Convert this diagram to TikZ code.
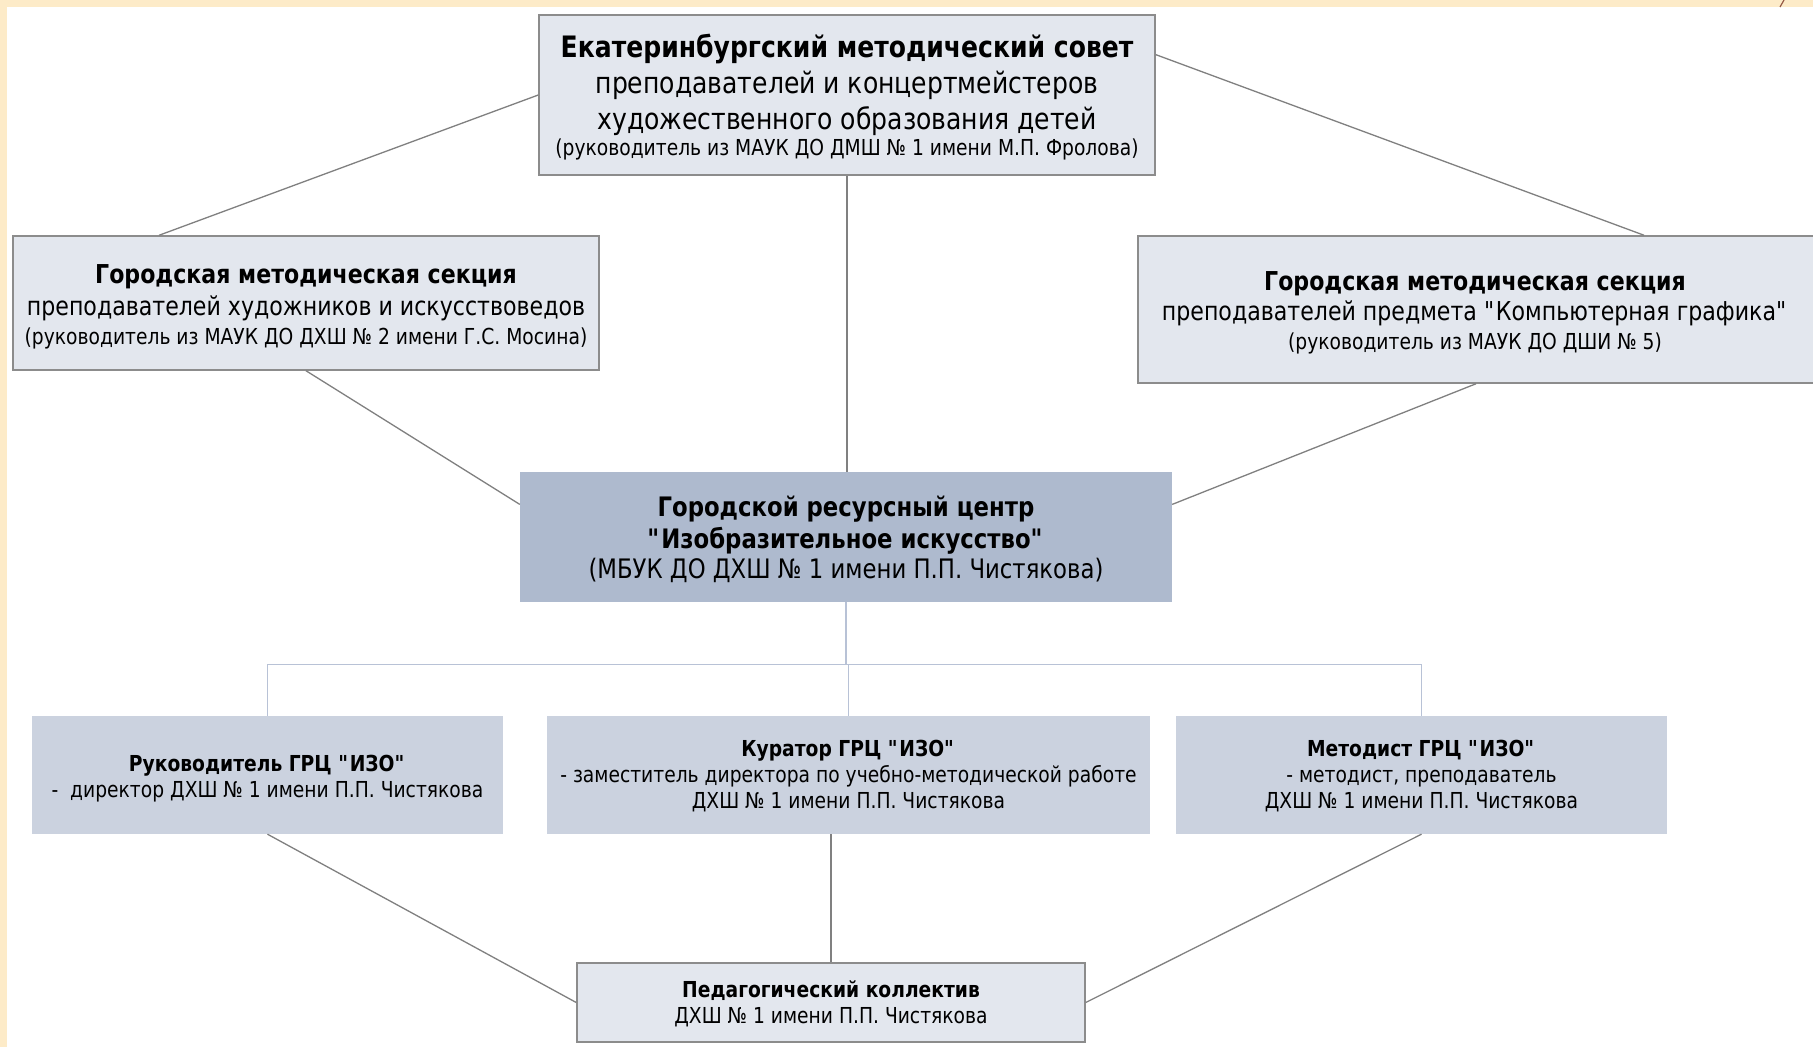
\documentclass[tikz,border=0pt]{standalone}
\usepackage{fontspec}
\setmainfont{DejaVu Sans}[FakeStretch=0.85]
\usetikzlibrary{calc}
\definecolor{peach}{RGB}{253,235,200}
\definecolor{boxlight}{RGB}{227,231,238}
\definecolor{boxborder}{RGB}{140,140,140}
\definecolor{boxmid}{RGB}{174,186,206}
\definecolor{boxrow}{RGB}{203,210,223}
\definecolor{linegray}{RGB}{128,128,128}
\definecolor{lineblue}{RGB}{184,194,214}
\definecolor{markbrown}{RGB}{150,90,70}
\newcommand{\qd}{\textquotedbl}
\tikzset{
  box/.style={rectangle, inner sep=0pt},
  lightbox/.style={box, fill=boxlight, draw=boxborder, line width=1.5pt},
  midbox/.style={box, fill=boxmid},
  rowbox/.style={box, fill=boxrow},
  txt/.style={inner sep=0pt, align=center, text=black},
  conn/.style={draw=linegray, line width=1.3pt},
  bus/.style={draw=lineblue, line width=1.4pt},
  bigfont/.style={font=\fontsize{29.5}{36}\selectfont},
  medfont/.style={font=\fontsize{26}{32}\selectfont},
  cenfont/.style={font=\fontsize{26.8}{32}\selectfont},
  rowfont/.style={font=\fontsize{22}{26}\selectfont},
}
\newcommand{\smallline}[1]{{\fontsize{22}{28}\selectfont #1}}
\begin{document}
\begin{tikzpicture}[x=1pt,y=-1pt]
\useasboundingbox (0,0) rectangle (1813,1047);
\fill[white] (0,0) rectangle (1813,1047);
\fill[peach] (0,0) rectangle (7,1047);
\fill[peach] (0,0) rectangle (1813,7);
\draw[markbrown, line width=1.2pt] (1784,0) -- (1780,7);

% boxes
\node[lightbox, minimum width=616pt, minimum height=160pt] (top) at (847,95) {};
\node[lightbox, minimum width=586pt, minimum height=134pt] (left) at (306,303) {};
\node[lightbox, minimum width=676pt, minimum height=147pt] (right) at (1476,309.5) {};
\node[midbox, minimum width=652pt, minimum height=130pt] (cen) at (846,537) {};
\node[rowbox, minimum width=471pt, minimum height=118pt] (r1) at (267.5,775) {};
\node[rowbox, minimum width=603pt, minimum height=118pt] (r2) at (848.5,775) {};
\node[rowbox, minimum width=491pt, minimum height=118pt] (r3) at (1421.5,775) {};
\node[lightbox, minimum width=508pt, minimum height=79pt] (bot) at (831,1002.5) {};

% texts
\node[txt, bigfont] (topt) at ([yshift=-2pt]top.center)
 {\textbf{Екатеринбургский методический совет}\\
  преподавателей и концертмейстеров\\
  художественного образования детей\\[-9.5pt]
  \smallline{(руководитель из МАУК ДО ДМШ № 1 имени М.П. Фролова)}};

\node[txt, medfont] (leftt) at ([yshift=-4pt]left.center)
 {\textbf{Городская методическая секция}\\
  преподавателей художников и искусствоведов\\[-3pt]
  \smallline{(руководитель из МАУК ДО ДХШ № 2 имени Г.С. Мосина)}};

\node[txt, medfont] (rightt) at ([xshift=-1pt,yshift=-3.5pt]right.center)
 {\textbf{Городская методическая секция}\\[-2.5pt]
  преподавателей предмета \qd Компьютерная графика\qd\\[-3pt]
  \smallline{(руководитель из МАУК ДО ДШИ № 5)}};

\node[txt, cenfont] (cent) at ([yshift=-2.5pt]cen.center)
 {\textbf{Городской ресурсный центр}\\
  \textbf{\qd Изобразительное искусство\qd}\\[-2pt]
  (МБУК ДО ДХШ № 1 имени П.П. Чистякова)};

\node[txt, rowfont] (r1t) at ([yshift=-3.5pt]r1.center)
 {\textbf{Руководитель ГРЦ \qd ИЗО\qd}\\
  -\ \ директор ДХШ № 1 имени П.П. Чистякова};

\node[txt, rowfont] (r2t) at ([yshift=-1pt]r2.center)
 {\textbf{Куратор ГРЦ \qd ИЗО\qd}\\
  - заместитель директора по учебно-методической работе\\
  ДХШ № 1 имени П.П. Чистякова};

\node[txt, rowfont] (r3t) at ([yshift=-1pt]r3.center)
 {\textbf{Методист ГРЦ \qd ИЗО\qd}\\
  - методист, преподаватель\\
  ДХШ № 1 имени П.П. Чистякова};

\node[txt, rowfont] (bott) at ([yshift=-1.5pt]bot.center)
 {\textbf{Педагогический коллектив}\\
  ДХШ № 1 имени П.П. Чистякова};

% connectors
\draw[conn] (top.west) -- ($(left.north west)!0.25!(left.north east)$);
\draw[conn] ($(top.north east)!0.25!(top.south east)$) -- ($(right.north west)!0.748!(right.north east)$);
\draw[conn] (top.south) -- (top.south |- cen.north);
\draw[conn] (left.south) -- ($(cen.north west)!0.25!(cen.south west)$);
\draw[conn] (right.south) -- ($(cen.north east)!0.25!(cen.south east)$);

\coordinate (busc) at ($(cen.south)+(0,62)$);
\draw[bus] (cen.south) -- (busc);
\draw[bus] (r1.north |- busc) -- (r3.north |- busc);
\draw[bus] (r1.north |- busc) -- (r1.north);
\draw[bus] (r2.north |- busc) -- (r2.north);
\draw[bus] (r3.north |- busc) -- (r3.north);

\draw[conn] (r1.south) -- (bot.west);
\draw[conn] (bot.north |- r2.south) -- (bot.north);
\draw[conn] (r3.south) -- (bot.east);
\end{tikzpicture}
\end{document}
